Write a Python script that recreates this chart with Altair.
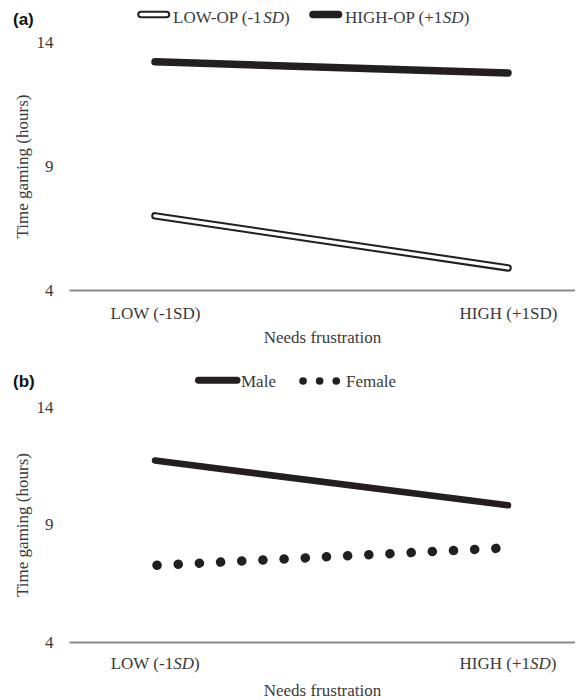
import altair as alt
import pandas as pd

# ---------------- data ----------------
x_levels = [0, 1]                      # LOW (-1SD), HIGH (+1SD)
low_op = [6.99, 4.89]
high_op = [13.2, 12.75]
male = [11.72, 9.82]
female = [7.26, 8.01]

y_ticks = [4, 9, 14]
x_labels_a = ["LOW (-1SD)", "HIGH (+1SD)"]
x_labels_b_pre = ["LOW (-1", "HIGH (+1"]
x_labels_b_ital = ["SD", "SD"]
x_labels_b_post = [")", ")"]
legend_a = [("LOW-OP (-1", "SD", ")"), ("HIGH-OP (+1", "SD", ")")]
legend_b = ["Male", "Female"]

SERIF = "Liberation Serif"
SANS = "Liberation Sans"
BLACK = "#231f20"
TXT = "#3a3a3a"
FS = 17
W = 506
HA = 248
HB = 235

# Times (Liberation Serif) advance widths per 1000 em, for laying out mixed-style text
ROMAN = {"L": 611, "O": 722, "W": 944, " ": 250, "(": 333, "-": 333, "1": 500, "H": 722,
         "I": 333, "G": 722, "+": 564, "P": 556, "S": 556, "D": 722, ")": 333}
ITAL = {"S": 500, "D": 722}


def tw(s, italic=False):
    tab = ITAL if italic else ROMAN
    return sum(tab.get(c, 500) for c in s) * FS / 1000.0


xscale = alt.Scale(domain=[-0.2437, 1.1898], nice=False, zero=False)
yscale = alt.Scale(domain=[4, 14], nice=False, zero=False)

one = pd.DataFrame({"k": [0]})


def yaxis(h):
    return alt.Axis(values=y_ticks, domain=False, ticks=False, grid=False,
                    labelFont=SERIF, labelFontSize=FS, labelColor=TXT, labelPadding=16,
                    title="Time gaming (hours)", titleFont=SERIF, titleFontSize=FS,
                    titleFontWeight="normal", titleColor=TXT, titleX=-47, titleY=h / 2,
                    titleAngle=270, titleBaseline="middle", titleAlign="center")


def xaxis(labels_on, label_pad, title_y):
    kw = dict(values=x_levels, ticks=False, tickSize=0, grid=False, domain=True,
              domainColor="#8a8a8a", domainWidth=1.8, labelFont=SERIF, labelFontSize=FS,
              labelColor=TXT, labelPadding=label_pad, labelBaseline="middle", labelFlush=False,
              labelOverlap=False, title="Needs frustration", titleFont=SERIF, titleFontSize=FS,
              titleFontWeight="normal", titleColor=TXT, titleX=W / 2, titleY=title_y,
              titleBaseline="middle", titleAlign="center")
    if labels_on:
        kw["labelExpr"] = "datum.value < 0.5 ? '%s' : '%s'" % (x_labels_a[0], x_labels_a[1])
    else:
        kw["labels"] = False
    return alt.Axis(**kw)


def text(s, x, y, **kw):
    return alt.Chart(one).mark_text(align=kw.pop("align", "left"), baseline="middle",
                                    font=kw.pop("font", SERIF), fontSize=kw.pop("fontSize", FS),
                                    color=kw.pop("color", TXT), **kw).encode(
        x=alt.value(x), y=alt.value(y), text=alt.value(s))


def legend_rule(x1, x2, y, width, color, **kw):
    return alt.Chart(one).mark_rule(strokeWidth=width, color=color, strokeCap="round", **kw).encode(
        x=alt.value(x1), x2=alt.value(x2), y=alt.value(y))


def mixed(parts, x0, y):
    out = []
    x = x0
    for i, p in enumerate(parts):
        ital = (i == 1)
        out.append(text(p, x, y, fontStyle="italic") if ital else text(p, x, y))
        x += tw(p, ital)
    return out


# ---------------- panel (a) ----------------
df_low = pd.DataFrame({"x": x_levels, "y": low_op})
df_high = pd.DataFrame({"x": x_levels, "y": high_op})

low_outer = alt.Chart(df_low).mark_line(color=BLACK, strokeWidth=7.5, strokeCap="round").encode(
    x=alt.X("x:Q", scale=xscale, axis=xaxis(True, 23, 47)),
    y=alt.Y("y:Q", scale=yscale, axis=yaxis(HA)))
low_inner = alt.Chart(df_low).mark_line(color="white", strokeWidth=3.4, strokeCap="round").encode(
    x="x:Q", y="y:Q")
high_line = alt.Chart(df_high).mark_line(color=BLACK, strokeWidth=7.5, strokeCap="round").encode(
    x="x:Q", y="y:Q")

ly_a = -24.5
panel_a = alt.layer(
    low_outer, low_inner, high_line,
    text("(a)", -56, -22, font=SANS, fontWeight="bold", color="#111"),
    legend_rule(72, 97.5, ly_a - 3, 7.5, BLACK),
    legend_rule(72, 97.5, ly_a - 3, 3.4, "white"),
    *mixed(legend_a[0], 104, ly_a),
    legend_rule(244, 269.5, ly_a - 3, 7.5, BLACK),
    *mixed(legend_a[1], 276, ly_a),
).properties(width=W, height=HA)

# ---------------- panel (b) ----------------
df_male = pd.DataFrame({"x": x_levels, "y": male})
df_female = pd.DataFrame({"x": x_levels, "y": female})

male_line = alt.Chart(df_male).mark_line(color=BLACK, strokeWidth=6.5, strokeCap="round").encode(
    x=alt.X("x:Q", scale=xscale, axis=xaxis(False, 22, 48)),
    y=alt.Y("y:Q", scale=yscale, axis=yaxis(HB)))
female_line = alt.Chart(df_female).mark_line(color=BLACK, strokeWidth=9.5, strokeCap="round",
                                             strokeDash=[0.1, 21.1], strokeDashOffset=-2).encode(
    x="x:Q", y="y:Q")

lab_y = HB + 22
lab_layers = []
for i, xv in enumerate(x_levels):
    pre, it, post = x_labels_b_pre[i], x_labels_b_ital[i], x_labels_b_post[i]
    total = tw(pre) + tw(it, True) + tw(post)
    a = tw(pre) - total / 2
    d = pd.DataFrame({"x": [xv]})
    base = alt.Chart(d)
    lab_layers.append(base.mark_text(align="right", baseline="middle", font=SERIF, fontSize=FS,
                                     color=TXT, dx=a).encode(x="x:Q", y=alt.value(lab_y), text=alt.value(pre)))
    lab_layers.append(base.mark_text(align="left", baseline="middle", font=SERIF, fontSize=FS,
                                     fontStyle="italic", color=TXT, dx=a).encode(
        x="x:Q", y=alt.value(lab_y), text=alt.value(it)))
    lab_layers.append(base.mark_text(align="left", baseline="middle", font=SERIF, fontSize=FS,
                                     color=TXT, dx=a + tw(it, True)).encode(
        x="x:Q", y=alt.value(lab_y), text=alt.value(post)))

ly_b = -25
panel_b = alt.layer(
    male_line, female_line, *lab_layers,
    text("(b)", -56, -25, font=SANS, fontWeight="bold", color="#111"),
    legend_rule(129.5, 168, ly_b - 1.7, 7, BLACK),
    text(legend_b[0], 172, ly_b),
    legend_rule(234, 268, ly_b - 1, 7.5, BLACK, strokeDash=[0.1, 16.5]),
    text(legend_b[1], 277, ly_b),
).properties(width=W, height=HB)

chart = alt.vconcat(panel_a, panel_b, spacing=28).properties(
    padding={"left": 5, "top": 0, "right": 0, "bottom": 0},
    background="white",
).configure_view(stroke=None)

chart.save("out.html", embed_options={"renderer": "svg", "actions": False})
